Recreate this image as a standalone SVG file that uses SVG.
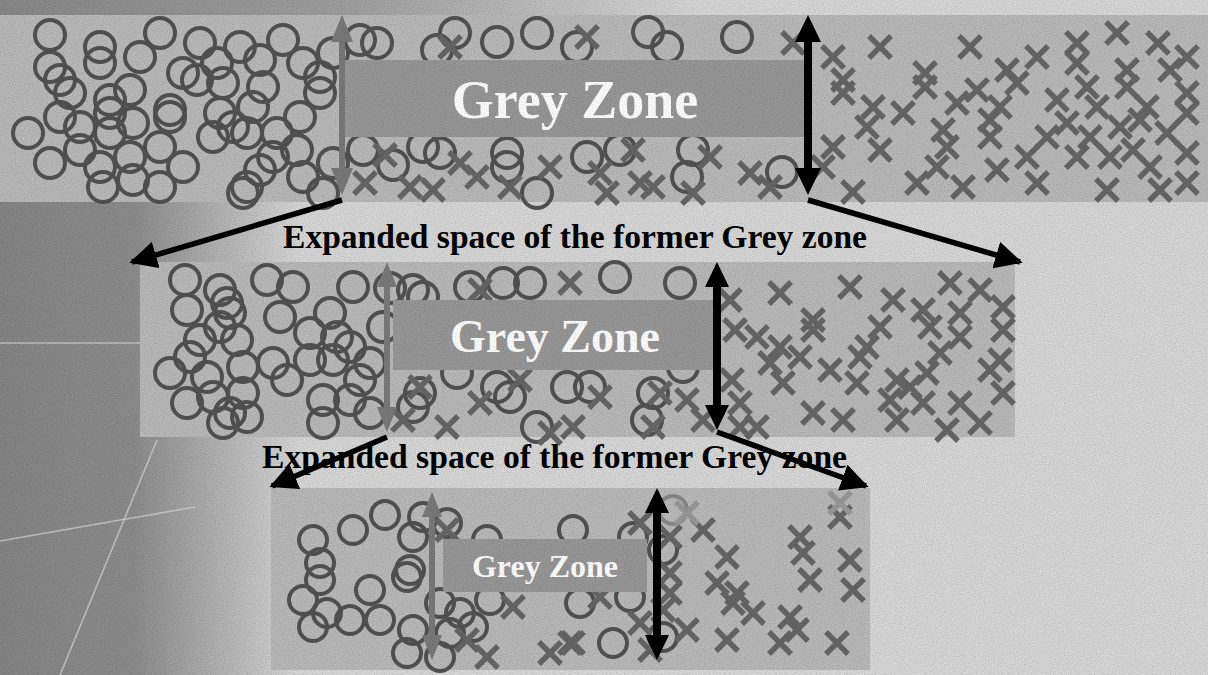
<svg xmlns="http://www.w3.org/2000/svg" xmlns:xlink="http://www.w3.org/1999/xlink" width="1208" height="675" viewBox="0 0 1208 675">
<style>
.panel{fill:#bababa}
.box{fill:#989898}
.o{fill:none;stroke:#525252;stroke-width:4}
.ol{fill:none;stroke:#8a8a8a;stroke-width:4}
.x{fill:none;stroke:#666;stroke-width:5.5}
.xl{fill:none;stroke:#999;stroke-width:5.5}
.gz{font-family:"Liberation Serif","Times New Roman",serif;font-weight:bold;fill:#fff;text-anchor:middle}
.ex{font-family:"Liberation Serif","Times New Roman",serif;font-weight:bold;fill:#000;font-size:33px}
.diag{stroke:#000;stroke-width:5.5;fill:none;marker-end:url(#ah)}
.streak{stroke:#d0d0d0;stroke-width:1.6;fill:none;opacity:0.8}
</style>
<defs>
<linearGradient id="lg" x1="0" y1="0" x2="1" y2="0">
<stop offset="0" stop-color="#858585"/>
<stop offset="0.45" stop-color="#8d8d8d"/>
<stop offset="1" stop-color="#d8d8d8"/>
</linearGradient>
<linearGradient id="lg2" x1="0" y1="0" x2="1" y2="0">
<stop offset="0" stop-color="#888"/>
<stop offset="0.5" stop-color="#a0a0a0"/>
<stop offset="1" stop-color="#d8d8d8"/>
</linearGradient>
<filter id="noise" x="0" y="0" width="100%" height="100%">
<feTurbulence type="fractalNoise" baseFrequency="0.9" numOctaves="1" seed="3"/>
<feColorMatrix type="matrix" values="0 0 0 0 0  0 0 0 0 0  0 0 0 0 0  0 0 0 -1.2 0.75"/>
</filter>
<marker id="ah" viewBox="0 0 10 10" refX="9" refY="5" markerWidth="5" markerHeight="5" orient="auto" markerUnits="strokeWidth">
<path d="M0,0L10,5L0,10z" fill="#000"/>
</marker>
<circle id="o" r="15"/>
<circle id="os" r="14"/>
<path id="x" d="M-11,-11L11,11M11,-11L-11,11"/>
</defs>

<g id="background">
<rect x="0" y="0" width="1208" height="675" fill="#d8d8d8"/>
<rect x="0" y="0" width="300" height="675" fill="url(#lg)"/>
<rect x="0" y="0" width="700" height="15" fill="url(#lg2)"/>
<line class="streak" x1="0" y1="343" x2="140" y2="343"/>
<line class="streak" x1="0" y1="541" x2="195" y2="507"/>
<line class="streak" x1="157" y1="440" x2="60" y2="675"/>
</g>

<g id="panel1">
<rect class="panel" x="0" y="15" width="1208" height="187"/>
<g class="o">
<use href="#o" x="50" y="35"/><use href="#o" x="100" y="47"/><use href="#o" x="100" y="63"/><use href="#o" x="50" y="67"/>
<use href="#o" x="60" y="80"/><use href="#o" x="70" y="93"/><use href="#o" x="140" y="57"/><use href="#o" x="160" y="33"/>
<use href="#o" x="130" y="90"/><use href="#o" x="110" y="100"/><use href="#o" x="110" y="113"/><use href="#o" x="60" y="117"/>
<use href="#o" x="80" y="127"/><use href="#o" x="28" y="133"/><use href="#o" x="50" y="163"/><use href="#o" x="80" y="150"/>
<use href="#o" x="100" y="167"/><use href="#o" x="103" y="187"/><use href="#o" x="130" y="157"/><use href="#o" x="133" y="180"/>
<use href="#o" x="110" y="133"/><use href="#o" x="133" y="123"/><use href="#o" x="160" y="147"/><use href="#o" x="170" y="110"/>
<use href="#o" x="170" y="117"/><use href="#o" x="160" y="187"/><use href="#o" x="183" y="167"/><use href="#o" x="183" y="73"/>
<use href="#o" x="200" y="43"/><use href="#o" x="197" y="80"/><use href="#o" x="217" y="63"/><use href="#o" x="223" y="83"/>
<use href="#o" x="240" y="47"/><use href="#o" x="260" y="60"/><use href="#o" x="263" y="87"/><use href="#o" x="220" y="113"/>
<use href="#o" x="213" y="137"/><use href="#o" x="233" y="127"/><use href="#o" x="253" y="107"/><use href="#o" x="247" y="133"/>
<use href="#o" x="277" y="133"/><use href="#o" x="283" y="40"/><use href="#o" x="303" y="63"/><use href="#o" x="320" y="77"/>
<use href="#o" x="320" y="93"/><use href="#o" x="333" y="53"/><use href="#o" x="360" y="40"/><use href="#o" x="377" y="43"/>
<use href="#o" x="300" y="117"/><use href="#o" x="297" y="150"/><use href="#o" x="273" y="157"/><use href="#o" x="260" y="170"/>
<use href="#o" x="247" y="187"/><use href="#o" x="243" y="193"/><use href="#o" x="303" y="177"/><use href="#o" x="323" y="193"/>
<use href="#o" x="333" y="163"/><use href="#o" x="363" y="150"/>
<use href="#o" x="455" y="33"/><use href="#o" x="437" y="50"/><use href="#o" x="497" y="42"/><use href="#o" x="537" y="33"/>
<use href="#o" x="577" y="47"/><use href="#o" x="648" y="32"/><use href="#o" x="667" y="47"/><use href="#o" x="737" y="37"/>
<use href="#o" x="423" y="147"/><use href="#o" x="440" y="153"/><use href="#o" x="507" y="153"/><use href="#o" x="507" y="167"/>
<use href="#o" x="537" y="193"/><use href="#o" x="587" y="157"/><use href="#o" x="693" y="150"/><use href="#o" x="687" y="177"/>
<use href="#o" x="393" y="165"/><use href="#o" x="620" y="150"/><use href="#o" x="782" y="172"/>
</g>
<g class="x">
<use href="#x" x="450" y="47"/><use href="#x" x="587" y="37"/><use href="#x" x="793" y="43"/><use href="#x" x="460" y="163"/>
<use href="#x" x="477" y="177"/><use href="#x" x="433" y="190"/><use href="#x" x="410" y="187"/><use href="#x" x="510" y="187"/>
<use href="#x" x="550" y="167"/><use href="#x" x="600" y="173"/><use href="#x" x="607" y="193"/><use href="#x" x="633" y="150"/>
<use href="#x" x="640" y="183"/><use href="#x" x="653" y="187"/><use href="#x" x="710" y="157"/><use href="#x" x="750" y="173"/>
<use href="#x" x="770" y="187"/><use href="#x" x="693" y="193"/><use href="#x" x="385" y="155"/><use href="#x" x="365" y="183"/>
<use href="#x" x="833" y="57"/><use href="#x" x="880" y="47"/><use href="#x" x="843" y="80"/><use href="#x" x="843" y="93"/>
<use href="#x" x="873" y="107"/><use href="#x" x="903" y="113"/><use href="#x" x="925" y="73"/><use href="#x" x="925" y="87"/>
<use href="#x" x="970" y="47"/><use href="#x" x="1007" y="70"/><use href="#x" x="1017" y="83"/><use href="#x" x="977" y="90"/>
<use href="#x" x="957" y="103"/><use href="#x" x="1000" y="107"/><use href="#x" x="990" y="120"/><use href="#x" x="1037" y="57"/>
<use href="#x" x="1077" y="43"/><use href="#x" x="1077" y="63"/><use href="#x" x="1087" y="87"/><use href="#x" x="1117" y="33"/>
<use href="#x" x="1127" y="70"/><use href="#x" x="1127" y="87"/><use href="#x" x="1158" y="43"/><use href="#x" x="1187" y="57"/>
<use href="#x" x="1170" y="70"/><use href="#x" x="1187" y="93"/><use href="#x" x="1057" y="100"/><use href="#x" x="1097" y="107"/>
<use href="#x" x="1147" y="107"/><use href="#x" x="1187" y="113"/><use href="#x" x="867" y="127"/><use href="#x" x="880" y="150"/>
<use href="#x" x="833" y="147"/><use href="#x" x="823" y="167"/><use href="#x" x="853" y="192"/><use href="#x" x="943" y="130"/>
<use href="#x" x="947" y="147"/><use href="#x" x="937" y="167"/><use href="#x" x="917" y="183"/><use href="#x" x="963" y="187"/>
<use href="#x" x="990" y="137"/><use href="#x" x="997" y="170"/><use href="#x" x="1027" y="157"/><use href="#x" x="1047" y="137"/>
<use href="#x" x="1037" y="183"/><use href="#x" x="1067" y="123"/><use href="#x" x="1077" y="157"/><use href="#x" x="1090" y="137"/>
<use href="#x" x="1110" y="157"/><use href="#x" x="1107" y="190"/><use href="#x" x="1120" y="127"/><use href="#x" x="1133" y="150"/>
<use href="#x" x="1150" y="167"/><use href="#x" x="1160" y="190"/><use href="#x" x="1167" y="133"/><use href="#x" x="1187" y="153"/>
<use href="#x" x="1187" y="183"/><use href="#x" x="1140" y="120"/>
</g>
<rect class="box" x="341" y="60" width="467" height="77"/>
<text class="gz" x="575" y="118" font-size="54">Grey Zone</text>
</g>

<g id="panel2">
<rect class="panel" x="140" y="262" width="875" height="175"/>
<g class="o">
<use href="#o" x="185" y="280"/><use href="#o" x="220" y="290"/><use href="#o" x="227" y="303"/><use href="#o" x="267" y="280"/>
<use href="#o" x="293" y="287"/><use href="#o" x="187" y="310"/><use href="#o" x="280" y="317"/><use href="#o" x="230" y="313"/>
<use href="#o" x="220" y="327"/><use href="#o" x="200" y="340"/><use href="#o" x="237" y="340"/><use href="#o" x="190" y="357"/>
<use href="#o" x="170" y="373"/><use href="#o" x="207" y="377"/><use href="#o" x="243" y="367"/><use href="#o" x="273" y="363"/>
<use href="#o" x="287" y="380"/><use href="#o" x="187" y="403"/><use href="#o" x="213" y="397"/><use href="#o" x="243" y="393"/>
<use href="#o" x="230" y="413"/><use href="#o" x="223" y="423"/><use href="#o" x="247" y="417"/><use href="#o" x="310" y="333"/>
<use href="#o" x="330" y="313"/><use href="#o" x="337" y="337"/><use href="#o" x="350" y="347"/><use href="#o" x="353" y="287"/>
<use href="#o" x="333" y="360"/><use href="#o" x="310" y="360"/><use href="#o" x="323" y="400"/><use href="#o" x="350" y="400"/>
<use href="#o" x="323" y="423"/><use href="#o" x="370" y="413"/><use href="#o" x="360" y="380"/><use href="#o" x="370" y="363"/>
<use href="#o" x="383" y="327"/><use href="#o" x="413" y="290"/><use href="#o" x="423" y="297"/><use href="#o" x="470" y="287"/>
<use href="#o" x="503" y="283"/><use href="#o" x="530" y="283"/><use href="#o" x="497" y="387"/><use href="#o" x="510" y="397"/>
<use href="#o" x="537" y="427"/><use href="#o" x="457" y="373"/><use href="#o" x="420" y="393"/><use href="#o" x="413" y="407"/>
<use href="#o" x="567" y="387"/><use href="#o" x="615" y="277"/><use href="#o" x="680" y="283"/><use href="#o" x="683" y="367"/>
<use href="#o" x="653" y="393"/><use href="#o" x="647" y="420"/><use href="#o" x="590" y="387"/><use href="#o" x="390" y="288"/>
</g>
<g class="x">
<use href="#x" x="480" y="290"/><use href="#x" x="570" y="283"/><use href="#x" x="480" y="403"/><use href="#x" x="520" y="380"/>
<use href="#x" x="420" y="387"/><use href="#x" x="403" y="420"/><use href="#x" x="447" y="427"/><use href="#x" x="550" y="433"/>
<use href="#x" x="573" y="427"/><use href="#x" x="780" y="293"/><use href="#x" x="850" y="287"/><use href="#x" x="893" y="300"/>
<use href="#x" x="950" y="283"/><use href="#x" x="980" y="290"/><use href="#x" x="1003" y="307"/><use href="#x" x="923" y="310"/>
<use href="#x" x="960" y="313"/><use href="#x" x="813" y="320"/><use href="#x" x="813" y="330"/><use href="#x" x="880" y="327"/>
<use href="#x" x="930" y="327"/><use href="#x" x="960" y="337"/><use href="#x" x="1003" y="330"/><use href="#x" x="757" y="337"/>
<use href="#x" x="780" y="347"/><use href="#x" x="800" y="357"/><use href="#x" x="867" y="347"/><use href="#x" x="860" y="357"/>
<use href="#x" x="940" y="353"/><use href="#x" x="830" y="370"/><use href="#x" x="770" y="363"/><use href="#x" x="783" y="383"/>
<use href="#x" x="857" y="383"/><use href="#x" x="897" y="380"/><use href="#x" x="910" y="387"/><use href="#x" x="927" y="373"/>
<use href="#x" x="990" y="370"/><use href="#x" x="1000" y="360"/><use href="#x" x="1003" y="393"/><use href="#x" x="813" y="413"/>
<use href="#x" x="843" y="420"/><use href="#x" x="757" y="427"/><use href="#x" x="897" y="420"/><use href="#x" x="890" y="400"/>
<use href="#x" x="923" y="403"/><use href="#x" x="960" y="403"/><use href="#x" x="947" y="430"/><use href="#x" x="980" y="423"/>
<use href="#x" x="600" y="397"/><use href="#x" x="660" y="393"/><use href="#x" x="687" y="400"/><use href="#x" x="653" y="427"/>
<use href="#x" x="703" y="420"/><use href="#x" x="740" y="403"/><use href="#x" x="740" y="427"/><use href="#x" x="730" y="300"/>
<use href="#x" x="735" y="330"/><use href="#x" x="732" y="380"/>
</g>
<rect class="box" x="393" y="300" width="324" height="70"/>
<text class="gz" x="555" y="352" font-size="46">Grey Zone</text>
</g>

<g id="panel3">
<rect class="panel" x="271" y="488" width="599" height="182"/>
<g class="o">
<use href="#os" x="313" y="540"/><use href="#os" x="353" y="530"/><use href="#os" x="385" y="515"/><use href="#os" x="423" y="517"/>
<use href="#os" x="320" y="563"/><use href="#os" x="320" y="580"/><use href="#os" x="303" y="600"/><use href="#os" x="313" y="627"/>
<use href="#os" x="327" y="613"/><use href="#os" x="350" y="620"/><use href="#os" x="370" y="590"/><use href="#os" x="380" y="620"/>
<use href="#os" x="413" y="537"/><use href="#os" x="410" y="570"/><use href="#os" x="407" y="577"/><use href="#os" x="447" y="523"/>
<use href="#os" x="487" y="540"/><use href="#os" x="440" y="603"/><use href="#os" x="460" y="613"/><use href="#os" x="473" y="627"/>
<use href="#os" x="450" y="633"/><use href="#os" x="413" y="630"/><use href="#os" x="407" y="653"/><use href="#os" x="440" y="657"/>
<use href="#os" x="490" y="600"/><use href="#os" x="573" y="530"/><use href="#os" x="580" y="603"/><use href="#os" x="633" y="537"/>
<use href="#os" x="663" y="550"/><use href="#os" x="630" y="597"/><use href="#os" x="613" y="643"/><use href="#os" x="663" y="637"/>
</g>
<g class="ol"><use href="#os" x="673" y="510"/></g>
<g class="x">
<use href="#x" x="513" y="607"/><use href="#x" x="467" y="640"/><use href="#x" x="487" y="657"/><use href="#x" x="447" y="530"/>
<use href="#x" x="550" y="653"/><use href="#x" x="570" y="643"/><use href="#x" x="640" y="523"/><use href="#x" x="703" y="530"/>
<use href="#x" x="670" y="537"/><use href="#x" x="670" y="573"/><use href="#x" x="670" y="593"/><use href="#x" x="663" y="610"/>
<use href="#x" x="727" y="557"/><use href="#x" x="717" y="583"/><use href="#x" x="737" y="593"/><use href="#x" x="753" y="613"/>
<use href="#x" x="733" y="603"/><use href="#x" x="800" y="537"/><use href="#x" x="803" y="553"/><use href="#x" x="810" y="580"/>
<use href="#x" x="850" y="560"/><use href="#x" x="853" y="590"/><use href="#x" x="840" y="517"/><use href="#x" x="790" y="617"/>
<use href="#x" x="797" y="630"/><use href="#x" x="780" y="643"/><use href="#x" x="727" y="640"/><use href="#x" x="837" y="643"/>
<use href="#x" x="573" y="643"/><use href="#x" x="640" y="623"/><use href="#x" x="687" y="630"/><use href="#x" x="650" y="650"/>
<use href="#x" x="600" y="597"/>
</g>
<g class="xl"><use href="#x" x="687" y="513"/><use href="#x" x="840" y="503"/></g>
<rect class="box" x="443" y="539" width="204" height="53"/>
<text class="gz" x="545" y="577" font-size="32">Grey Zone</text>
</g>

<g id="labels">
<text class="ex" x="283" y="248" textLength="584" lengthAdjust="spacingAndGlyphs">Expanded space of the former Grey zone</text>
<text class="ex" x="262" y="468" textLength="585" lengthAdjust="spacingAndGlyphs">Expanded space of the former Grey zone</text>
</g>

<g id="connectors">
<path fill="#7a7a7a" d="M342,15L353,42L345,42L345,168L353,168L342,195L331,168L339,168L339,42L331,42z"/>
<path fill="#000" d="M808,15L821,42L812,42L812,168L821,168L808,195L795,168L804,168L804,42L795,42z"/>
<path fill="#7a7a7a" d="M387,262L397,287L390,287L390,407L397,407L387,432L377,407L384,407L384,287L377,287z"/>
<path fill="#000" d="M717,262L729,287L721,287L721,405L729,405L717,430L705,405L713,405L713,287L705,287z"/>
<path fill="#7a7a7a" d="M432,492L442,517L435,517L435,635L442,635L432,660L422,635L429,635L429,517L422,517z"/>
<path fill="#000" d="M657,488L669,513L661,513L661,635L669,635L657,660L645,635L653,635L653,513L645,513z"/>
<line class="diag" x1="342" y1="200" x2="132" y2="262"/>
<line class="diag" x1="808" y1="200" x2="1020" y2="262"/>
<line class="diag" x1="387" y1="437" x2="272" y2="486"/>
<line class="diag" x1="717" y1="432" x2="866" y2="486"/>
</g>

<rect x="0" y="0" width="1208" height="675" filter="url(#noise)" opacity="0.25" pointer-events="none"/>
</svg>
